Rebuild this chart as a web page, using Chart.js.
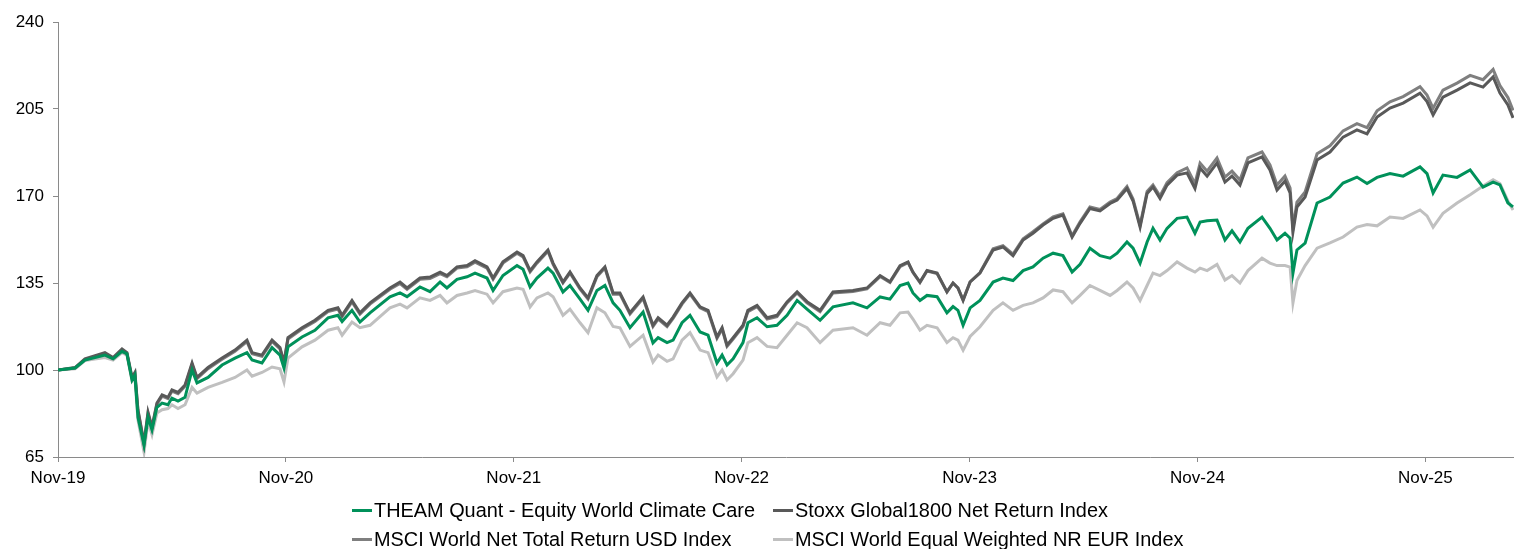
<!DOCTYPE html>
<html>
<head>
<meta charset="utf-8">
<script src="https://cdn.jsdelivr.net/npm/chart.js@4.4.1/dist/chart.umd.min.js"></script>
<style>
  html, body { margin: 0; padding: 0; background: #fff; }
  #wrap { position: relative; width: 1514px; height: 549px; overflow: hidden; }
  #legend { position: absolute; left: 352px; top: 496px; display: grid;
    grid-template-columns: 421px auto; grid-auto-rows: 29px;
    font-family: "Liberation Sans", Arial, sans-serif; font-size: 19.9px; color: #000; }
  .item { display: flex; align-items: center; white-space: nowrap; }
  .swatch { width: 20px; height: 3px; margin-right: 2px; }
</style>
</head>
<body>
<div id="wrap">
  <canvas id="mycanvas" width="1514" height="549"></canvas>
  <div id="legend"></div>
</div>
<script>
// months since Nov-19 for each sampled point
var months = [0,0.90,1.42,2.47,2.90,3.37,3.63,3.90,4.05,4.21,4.53,4.74,4.95,5.21,5.48,5.79,6.00,6.32,6.69,7.06,
  7.32,7.90,8.64,9.32,9.95,10.22,10.74,11.27,11.69,11.90,12.11,12.85,13.53,14.22,14.74,14.96,15.48,15.90,16.43,17.48,
  18.01,18.38,19.06,19.59,20.12,20.48,21.01,21.54,21.96,22.59,22.91,23.43,24.17,24.49,24.86,25.22,25.80,26.07,26.59,26.96,
  27.49,27.91,28.38,28.80,29.23,29.59,30.12,30.81,31.33,31.60,32.07,32.39,32.86,33.28,33.81,34.23,34.70,34.97,35.23,35.55,
  36.07,36.33,36.81,37.34,37.86,38.39,38.92,39.44,40.13,40.81,41.86,42.60,43.29,43.81,44.34,44.76,45.02,45.39,45.76,46.29,
  46.81,47.13,47.39,47.66,48.03,48.55,49.24,49.76,50.29,50.82,51.34,51.87,52.40,52.92,53.40,53.82,54.34,54.87,55.40,55.77,
  56.29,56.61,56.98,57.35,57.66,58.03,58.40,58.93,59.45,59.87,60.14,60.51,61.03,61.45,61.82,62.24,62.66,63.40,63.82,64.19,
  64.61,64.88,65.03,65.24,65.67,66.30,66.98,67.67,68.40,68.93,69.46,70.14,70.83,71.72,72.09,72.41,72.93,73.67,74.36,75.04,
  75.57,75.93,76.35,76.62];

var theam = [100,100.8,104,106,104.5,107.5,106.5,96,98,81,69.8,81,76,85,86.7,86,88.7,87.5,89,100,
  94.8,97,102,104.8,107,104,102.8,109,106,100.8,109.3,113.3,116,121,122,119.5,124,119.3,123,129.4,
  131,129.5,133.4,131.5,135.4,133,136.5,137.5,139,137,132,138,142,140.5,133.4,137,141,139,131.4,134,
  128.5,124,132,134,127,124,117,123.3,110.9,113,111,112,119,122,115.3,114,102.8,106,102,104.5,
  111,119,121,117.4,118,122,128,124.5,120,125.4,127,125,129.4,128.5,134,135,131,128,130,129.5,
  123,125.5,124,118,125,128,135.4,137,136,140,141.5,145,147,146,139.4,142.5,149,146,145,147,
  151.5,149,143,151.5,157,152.3,157,161,161.5,155,159.5,160,160.3,152.3,156,151.5,157,161.5,157,152.3,
  155,153,139,148.3,151,167.2,169.6,175.2,177.6,175,177.5,179,178,181.7,179,171.2,178.4,177.5,180.5,173.6,
  175.6,174.5,167.2,165.6];

var stoxx = [100,101,104.5,107,105,108.5,107,97,99,84,70.6,83,77,86.7,90,89,92,91,94,102.8,
  97,101,104.8,108,112,107,106,112,109,103,113,117,120,124,125,122,128,123,127,133,
  135.4,133,137,137.4,139.4,138,141.5,142,144,141.5,137,143.5,147.5,146,140,143.5,148.3,143,135.4,139.4,
  133,129,138,141.5,131,131,123,129.4,118,121,118,121.3,127,131,125.4,124,113.3,117,110,113,
  118,124,126,121,122,127.4,131.4,127.5,124,131.4,132,133,138,135.5,142,143.5,139.4,135.4,140,139,
  131.4,135,133,128,135.4,139,148.3,149.5,146,152.3,155,158.3,161,162.3,153.5,159,165,164,167,168.4,
  173,168,157.5,171,173.6,169,174.4,178.4,179.3,173,181.3,178,183.3,175.6,178,174.4,183.3,185.7,180.5,172.4,
  176,171.2,155.5,165.6,169.6,184.5,187.7,193.7,196.6,195,201.8,205.4,207.4,211.4,208,202.6,209.8,212.6,215.5,213.8,
  217.9,211.4,206.6,201.4];

var msciWorld = [100,100.8,104.2,106.6,104.6,108,106.6,96.6,98.5,83.5,70.2,82.5,76.6,86.2,89.5,88.5,91.5,90.5,93.5,102.2,
  96.5,100.5,104.3,107.5,111.4,106.5,105.5,111.5,108.5,102.5,112.5,116.5,119.5,123.5,124.5,121.5,127.4,122.5,126.5,132.5,
  134.8,132.5,136.5,136.8,138.8,137.5,141,141.5,143.4,141,136.5,143,147,145.5,139.5,143,147.8,142.5,135,139,
  132.5,128.5,137.5,141,130.5,130.5,122.5,128.8,117.5,120.5,117.5,120.8,126.5,130.5,125,123.5,112.8,116.5,109.5,112.5,
  117.5,123.5,125.5,120.5,121.5,127,131,127,123.5,131,131.6,132.6,137.6,135.2,141.6,143.2,139.2,135.2,139.8,138.8,
  131.4,135,133,128.2,135.5,139.2,148.8,150,146.6,152.8,155.6,158.8,161.6,162.8,154,159.6,165.6,164.6,167.6,169,
  173.8,168.8,158.2,171.8,174.4,170,175.4,179.4,181.3,175,183.2,180,185.3,177.6,180,176.4,185.3,187.7,182.5,174.4,
  178,173.2,157,167.5,171.6,187,190.2,196.2,199.1,197.5,204.3,207.9,210,214,210.6,205.3,212.6,215.4,218.5,216.8,
  220.9,214.4,209.6,204.4];

var msciEqual = [100,100.5,103.8,105,104,107,106,95.5,97,80,67,79.5,74,82.7,84,84.5,86,84.5,86,93,
  90.7,93,95,97,100,97.5,99,101.2,100.5,95.2,104.8,109.3,112,116,117,114,119.3,117,118,125,
  126.5,125,129,128,130,127,130,131,132,130.5,127,131.5,133,132.5,125.4,129,131,129.5,122,124.5,
  119,115,125,123,117.5,117,109.5,114,103.2,106,103.5,104.5,112,115,108,107,97.2,100,96,98.5,
  104,111,113,109.5,109,114,119,117,111,116,117,114,119,118,123,123.3,120.5,116,118,117,
  111,113,112,108,113.5,117.4,124,127,124,126,127,129,132.2,131.5,127,130,134,132,130,132,
  135.4,133,128,134,139,138,140,143.5,141,139.4,141,140,142.5,136.2,138,135,140,145,143,142,
  142,141.4,127,136,142,149,151.1,153.5,157.5,158.5,158,161.5,161,164.4,162,157.5,163,167.2,170.5,174,
  176.5,175,168,164.4];

var seriesNames = ['THEAM Quant - Equity World Climate Care', 'Stoxx Global1800 Net Return Index',
  'MSCI World Net Total Return USD Index', 'MSCI World Equal Weighted NR EUR Index'];
var seriesColors = ['#00915a', '#595959', '#7f7f7f', '#c0c0c0'];

var tickMonths = [0, 12, 24, 36, 48, 60, 72];
var tickLabels = ['Nov-19', 'Nov-20', 'Nov-21', 'Nov-22', 'Nov-23', 'Nov-24', 'Nov-25'];

function toPoints(vals) {
  return vals.map(function (v, i) { return { x: months[i], y: v }; });
}

var allValues = [theam, stoxx, msciWorld, msciEqual];
var datasets = allValues.map(function (vals, i) {
  return {
    label: seriesNames[i],
    data: toPoints(vals),
    borderColor: seriesColors[i],
    backgroundColor: seriesColors[i],
    borderWidth: 3,
    pointRadius: 0,
    tension: 0,
    fill: false
  };
});

var axisColor = '#8a8a8a';
var font = { family: '"Liberation Sans", Arial, sans-serif', size: 17 };

var ctx = document.getElementById('mycanvas');
var chart = new Chart(ctx, {
  type: 'line',
  data: { datasets: datasets },
  options: {
    responsive: false,
    animation: false,
    layout: { padding: { top: 22, right: 0, bottom: 0, left: 0 } },
    plugins: { legend: { display: false }, tooltip: { enabled: false } },
    scales: {
      x: {
        type: 'linear',
        min: 0,
        max: 76.67,
        afterBuildTicks: function (scale) {
          scale.ticks = tickMonths.map(function (m) { return { value: m }; });
        },
        afterFit: function (scale) { scale.height = 92; },
        ticks: {
          color: '#000',
          font: font,
          padding: 6,
          maxRotation: 0,
          autoSkip: false,
          callback: function (value) {
            var k = tickMonths.indexOf(value);
            return k >= 0 ? tickLabels[k] : '';
          }
        },
        grid: { drawOnChartArea: false, drawTicks: true, tickLength: 5, color: axisColor },
        border: { color: axisColor, width: 1 }
      },
      y: {
        min: 65,
        max: 240,
        afterFit: function (scale) { scale.width = 58; },
        ticks: { stepSize: 35, color: '#000', font: font, padding: 9 },
        grid: { drawOnChartArea: false, drawTicks: true, tickLength: 5, color: axisColor },
        border: { color: axisColor, width: 1 }
      }
    }
  }
});

// legend built from the chart's datasets
var legend = document.getElementById('legend');
chart.data.datasets.forEach(function (ds) {
  var item = document.createElement('div');
  item.className = 'item';
  var sw = document.createElement('span');
  sw.className = 'swatch';
  sw.style.background = ds.borderColor;
  var tx = document.createElement('span');
  tx.textContent = ds.label;
  item.appendChild(sw);
  item.appendChild(tx);
  legend.appendChild(item);
});
</script>
</body>
</html>
